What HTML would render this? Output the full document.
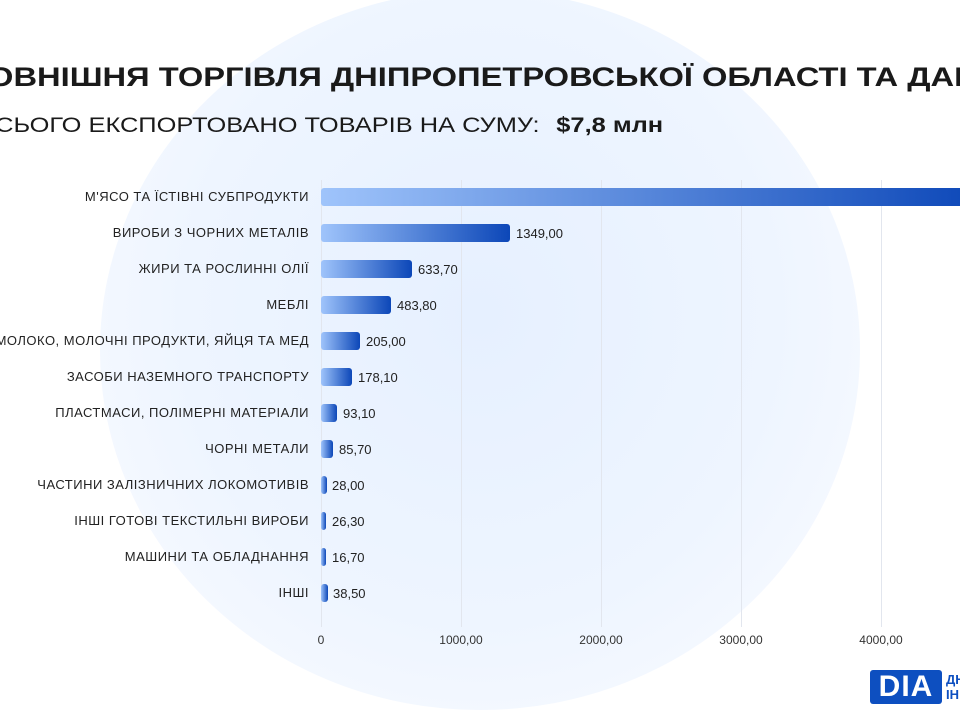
<!DOCTYPE html>
<html><head><meta charset="utf-8"><style>
body{margin:0;width:960px;height:720px;overflow:hidden;position:relative;background:#fff;font-family:"Liberation Sans",sans-serif;color:#222}
.bg{position:absolute;left:100px;top:-10px;width:760px;height:720px;border-radius:50%;background:radial-gradient(ellipse at 50% 45%,#e6f0ff 0%,#eef5ff 55%,#f6f9ff 80%,rgba(255,255,255,0) 100%)}
.t1{position:absolute;left:-32px;top:62px;font-size:27px;font-weight:bold;white-space:nowrap;color:#1a1a1a;transform:scaleX(1.21);transform-origin:0 0}
.t2{position:absolute;left:-21px;top:114px;font-size:21px;white-space:nowrap;color:#1a1a1a;transform:scaleX(1.21);transform-origin:0 0}
.t2 b{margin-left:8px}
.g{position:absolute;top:180px;height:447px;width:1px;background:#e2e6ee}
.lab{position:absolute;right:651px;font-size:13px;white-space:nowrap;text-align:right;color:#222;letter-spacing:0.5px}
.bar{position:absolute;left:321px;height:18px;border-radius:3px;background:linear-gradient(90deg,#9fc4fb,#0c47b8)}
.val{position:absolute;font-size:13px;color:#222}
.tk{position:absolute;top:633px;font-size:12px;color:#333;transform:translateX(-50%)}
.logo{position:absolute;left:870px;top:670px;width:72px;height:34px;background:#0d4fc0;border-radius:3px;color:#fff;font-weight:bold;font-size:30px;line-height:34px;text-align:center;letter-spacing:1px}
</style></head><body>
<div class="bg"></div>
<div class="t1">ЗОВНІШНЯ ТОРГІВЛЯ ДНІПРОПЕТРОВСЬКОЇ ОБЛАСТІ ТА ДАНІЇ</div>
<div class="t2">ВСЬОГО ЕКСПОРТОВАНО ТОВАРІВ НА СУМУ: <b>$7,8 млн</b></div>
<div class="g" style="left:321px"></div><div class="g" style="left:461px"></div><div class="g" style="left:601px"></div><div class="g" style="left:741px"></div><div class="g" style="left:881px"></div>

<div class="lab" style="top:189px">М'ЯСО ТА ЇСТІВНІ СУБПРОДУКТИ</div><div class="bar" style="top:188px;width:660px"></div>
<div class="lab" style="top:225px">ВИРОБИ З ЧОРНИХ МЕТАЛІВ</div><div class="bar" style="top:224px;width:189px"></div><div class="val" style="left:516px;top:226px">1349,00</div>
<div class="lab" style="top:261px">ЖИРИ ТА РОСЛИННІ ОЛІЇ</div><div class="bar" style="top:260px;width:91px"></div><div class="val" style="left:418px;top:262px">633,70</div>
<div class="lab" style="top:297px">МЕБЛІ</div><div class="bar" style="top:296px;width:70px"></div><div class="val" style="left:397px;top:298px">483,80</div>
<div class="lab" style="top:333px">МОЛОКО, МОЛОЧНІ ПРОДУКТИ, ЯЙЦЯ ТА МЕД</div><div class="bar" style="top:332px;width:39px"></div><div class="val" style="left:366px;top:334px">205,00</div>
<div class="lab" style="top:369px">ЗАСОБИ НАЗЕМНОГО ТРАНСПОРТУ</div><div class="bar" style="top:368px;width:31px"></div><div class="val" style="left:358px;top:370px">178,10</div>
<div class="lab" style="top:405px">ПЛАСТМАСИ, ПОЛІМЕРНІ МАТЕРІАЛИ</div><div class="bar" style="top:404px;width:16px"></div><div class="val" style="left:343px;top:406px">93,10</div>
<div class="lab" style="top:441px">ЧОРНІ МЕТАЛИ</div><div class="bar" style="top:440px;width:12px"></div><div class="val" style="left:339px;top:442px">85,70</div>
<div class="lab" style="top:477px">ЧАСТИНИ ЗАЛІЗНИЧНИХ ЛОКОМОТИВІВ</div><div class="bar" style="top:476px;width:6px"></div><div class="val" style="left:332px;top:478px">28,00</div>
<div class="lab" style="top:513px">ІНШІ ГОТОВІ ТЕКСТИЛЬНІ ВИРОБИ</div><div class="bar" style="top:512px;width:5px"></div><div class="val" style="left:332px;top:514px">26,30</div>
<div class="lab" style="top:549px">МАШИНИ ТА ОБЛАДНАННЯ</div><div class="bar" style="top:548px;width:5px"></div><div class="val" style="left:332px;top:550px">16,70</div>
<div class="lab" style="top:585px">ІНШІ</div><div class="bar" style="top:584px;width:7px"></div><div class="val" style="left:333px;top:586px">38,50</div>

<div class="tk" style="left:321px">0</div><div class="tk" style="left:461px">1000,00</div><div class="tk" style="left:601px">2000,00</div><div class="tk" style="left:741px">3000,00</div><div class="tk" style="left:881px">4000,00</div>
<div class="logo">DIA</div>
<div style="position:absolute;left:946px;top:672px;font-size:13px;font-weight:bold;color:#0d4fc0;line-height:15px">ДН<br>ІН</div>
</body></html>
